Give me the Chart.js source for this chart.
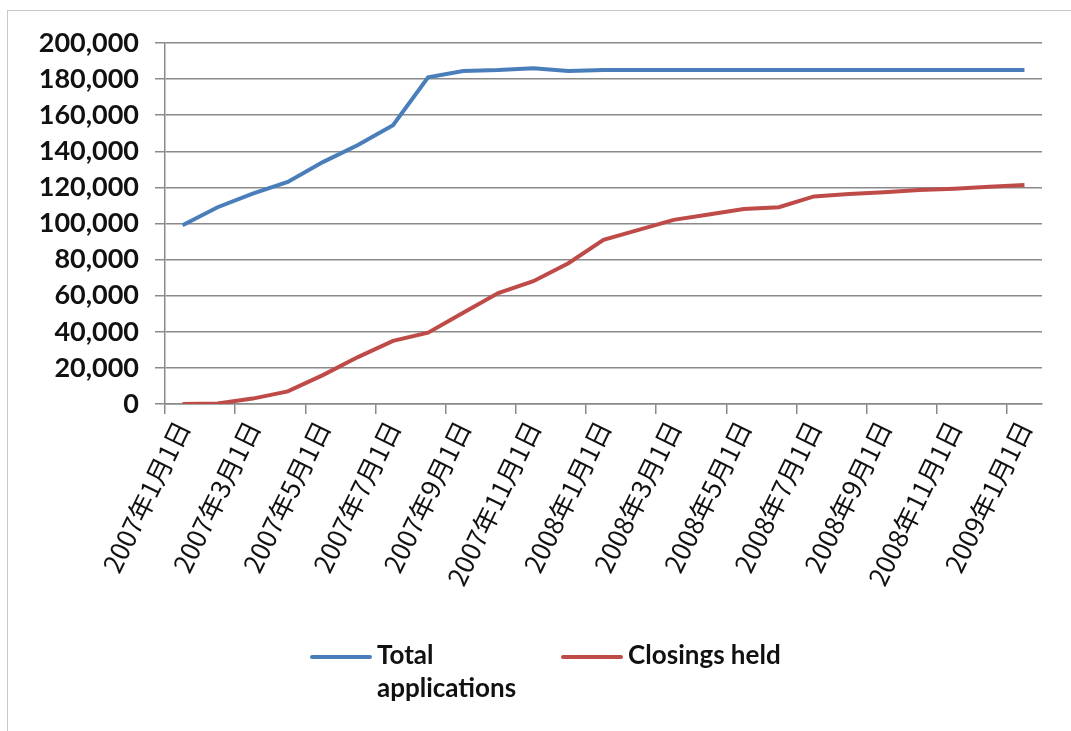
<!DOCTYPE html>
<html lang="ja">
<head>
    <meta charset="UTF-8">
    <title>Total applications / Closings held</title>
    <script src="https://cdn.jsdelivr.net/npm/chart.js@4.4.1/dist/chart.umd.min.js"></script>
    <style>
      body { margin:0; background:#fff; }
      #wrap { position:relative; width:1071px; height:731px; overflow:hidden; }
      #frame { position:absolute; left:7px; top:10px; width:1080px; height:740px; border:1px solid #c8c8c8; box-sizing:border-box; }
      #chart { position:absolute; left:0; top:0; }
      #legend { position:absolute; left:310px; top:638px; display:flex; font-family:Lato, "Open Sans", sans-serif; font-weight:bold; font-size:26px; color:#111; }
      .item { display:flex; align-items:flex-start; }
      .swatch { width:62px; height:4px; margin-top:17px; margin-right:5px; border-radius:2px; }
      .txt { line-height:33px; }
    </style>
</head>
<body>
  <div id="wrap">
    <div id="frame"></div>
    <canvas id="chart" width="1071" height="731"></canvas>
    <div id="legend"></div>
  </div>
  <script>
    // one label per month, 2007-01 .. 2009-01
    var months = ['2007年1月1日','2007年2月1日','2007年3月1日','2007年4月1日','2007年5月1日','2007年6月1日',
      '2007年7月1日','2007年8月1日','2007年9月1日','2007年10月1日','2007年11月1日','2007年12月1日',
      '2008年1月1日','2008年2月1日','2008年3月1日','2008年4月1日','2008年5月1日','2008年6月1日',
      '2008年7月1日','2008年8月1日','2008年9月1日','2008年10月1日','2008年11月1日','2008年12月1日',
      '2009年1月1日']
    var totalApps = [99000,109000,116500,123000,134000,143500,154500,181000,184500,185000,186000,184500,
      185000,185000,185000,185000,185000,185000,185000,185000,185000,185000,185000,185000,185000]
    var closings = [0,300,3000,7000,16000,26000,35000,39500,50500,61500,68000,78000,
      91000,96500,102000,105000,108000,109000,115000,116300,117300,118500,119300,120300,121300]
    var seriesNames = [['Total', 'applications'], ['Closings held']]
    var seriesColors = ['#4a7ebb', '#be4b48']
    var yTicks = [0,20000,40000,60000,80000,100000,120000,140000,160000,180000,200000]

    var gridGray = '#8a8a8a'
    var ctx = document.getElementById('chart')
    var chart = new Chart(ctx, {
      type: 'line',
      data: {
        labels: months,
        datasets: [
          { label: seriesNames[0].join(' '), data: totalApps, borderColor: seriesColors[0], borderWidth: 4, pointRadius: 0, tension: 0, fill: false },
          { label: seriesNames[1].join(' '), data: closings, borderColor: seriesColors[1], borderWidth: 4, pointRadius: 0, tension: 0, fill: false }
        ]
      },
      options: {
        responsive: false,
        animation: false,
        layout: { padding: { top: 43, left: 10, right: 29, bottom: 0 } },
        plugins: { legend: { display: false }, tooltip: { enabled: false } },
        scales: {
          x: {
            offset: true,
            afterFit: function(s){ s.height = 327 },
            grid: {
              offset: true,
              drawOnChartArea: false,
              tickLength: 10,
              color: function(c){ return c.index % 2 === 0 ? gridGray : 'rgba(0,0,0,0)' },
              lineWidth: 1.5
            },
            border: { color: gridGray, width: 1.5 },
            ticks: {
              autoSkip: false,
              minRotation: 64,
              maxRotation: 64,
              padding: 2,
              color: '#111',
              font: { family: '"Noto Sans CJK JP", Lato, sans-serif', size: 26 },
              callback: function(v, i){ return i % 2 === 0 ? months[i] : '' }
            }
          },
          y: {
            min: 0,
            max: 200000,
            afterFit: function(s){ s.width = 155 },
            afterBuildTicks: function(s){ s.ticks = yTicks.map(function(v){ return { value: v } }) },
            grid: { color: gridGray, lineWidth: 1.5, tickLength: 10 },
            border: { color: gridGray, width: 1.5 },
            ticks: {
              padding: 16,
              color: '#111',
              font: { family: 'Lato, "Open Sans", sans-serif', size: 27, weight: 'bold' },
              callback: function(v){ return v.toLocaleString('en-US') }
            }
          }
        }
      }
    })

    // legend below the chart, text wraps like the original
    var legend = document.getElementById('legend')
    chart.data.datasets.forEach(function(ds, i){
      var item = document.createElement('div')
      item.className = 'item'
      item.style.marginRight = i === 0 ? '45px' : '0'
      item.innerHTML = '<div class="swatch" style="background:' + ds.borderColor + '"></div>' +
        '<div class="txt">' + seriesNames[i].join('<br>') + '</div>'
      legend.appendChild(item)
    })
  </script>
</body>
</html>
